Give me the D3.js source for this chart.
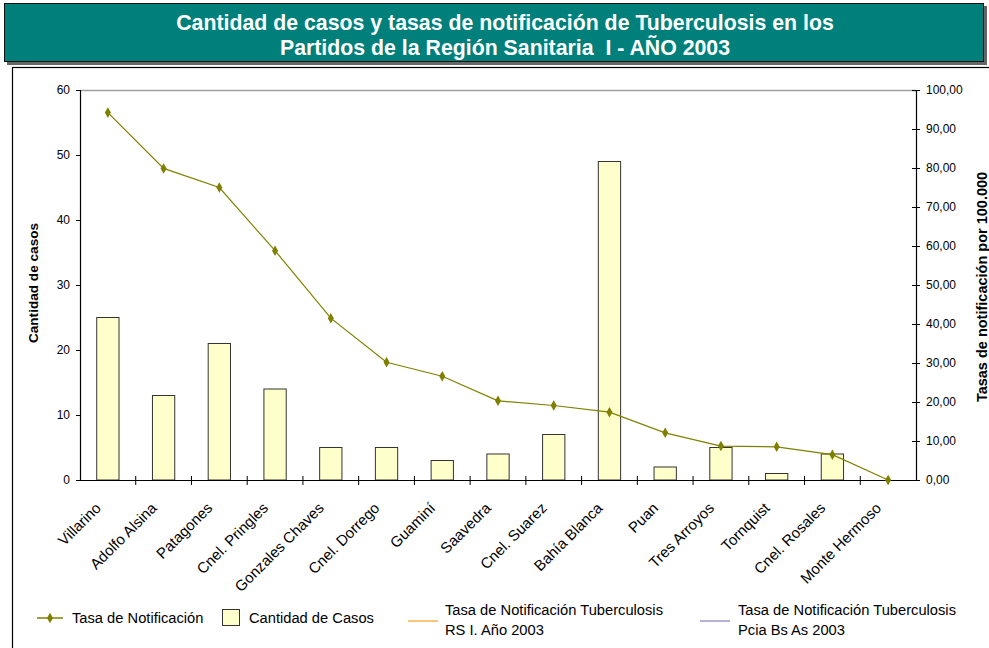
<!DOCTYPE html>
<html>
<head>
<meta charset="utf-8">
<script src="https://cdn.jsdelivr.net/npm/d3@7"></script>
<style>
  body { margin: 0; background: #fff; }
  text { font-family: "Liberation Sans", Arial, sans-serif; }
</style>
</head>
<body>
<svg id="chart" width="989" height="648"></svg>
<script>
// data
var partidos = ['Villarino', 'Adolfo Alsina', 'Patagones', 'Cnel. Pringles', 'Gonzales Chaves',
  'Cnel. Dorrego', 'Guaminí', 'Saavedra', 'Cnel. Suarez', 'Bahía Blanca', 'Puan',
  'Tres Arroyos', 'Tornquist', 'Cnel. Rosales', 'Monte Hermoso'];
var casos = [25, 13, 21, 14, 5, 5, 3, 4, 7, 49, 2, 5, 1, 4, 0];
var tasas = [94.2, 79.9, 75.0, 58.8, 41.5, 30.2, 26.6, 20.3, 19.1, 17.4, 12.1, 8.7, 8.5, 6.5, 0];
var casosTicks = [0, 10, 20, 30, 40, 50, 60];
var tasasTicks = [0, 10, 20, 30, 40, 50, 60, 70, 80, 90, 100];

// layout
var plot = {left: 80, right: 916, top: 90, bottom: 480};
var olive = '#808000';

var svg = d3.select('#chart');

// title bar
svg.append('rect')
  .attr('x', 7).attr('y', 6).attr('width', 980).attr('height', 59)
  .style('fill', '#666');
svg.append('rect')
  .attr('x', 4.5).attr('y', 3.5).attr('width', 979).attr('height', 58)
  .style('fill', '#007F7B').style('stroke', '#111').style('stroke-width', 1);
svg.append('text')
  .attr('x', 505).attr('y', 30)
  .attr('text-anchor', 'middle')
  .style('font-size', '21.3px').style('font-weight', 'bold').style('fill', '#fff')
  .text('Cantidad de casos y tasas de notificación de Tuberculosis en los');
svg.append('text')
  .attr('x', 505).attr('y', 55)
  .attr('text-anchor', 'middle')
  .style('font-size', '21.3px').style('font-weight', 'bold').style('fill', '#fff')
  .text('Partidos de la Región Sanitaria\u00a0 I - AÑO 2003');

// outer frame of chart
svg.append('rect')
  .attr('x', 12.5).attr('y', 67.5).attr('width', 1000).attr('height', 700)
  .style('fill', 'none').style('stroke', '#000').style('stroke-width', 1.2);

// scales
var x = d3.scaleBand().domain(partidos).range([plot.left, plot.right]);
var yL = d3.scaleLinear().domain([0, 60]).range([plot.bottom, plot.top]);
var yR = d3.scaleLinear().domain([0, 100]).range([plot.bottom, plot.top]);

// top border of plot area
svg.append('line')
  .attr('x1', plot.left).attr('x2', plot.right)
  .attr('y1', plot.top + 0.5).attr('y2', plot.top + 0.5)
  .style('stroke', '#a0a0a0').style('stroke-width', 1.5);

// bars
var barW = x.bandwidth() * 0.4;
svg.selectAll('rect.casos')
  .data(partidos.map(function(p, i) { return {p: p, v: casos[i]}; }).filter(function(d) { return d.v > 0; }))
  .enter()
  .append('rect')
    .classed('casos', true)
    .attr('x', function(d) { return x(d.p) + (x.bandwidth() - barW) / 2; })
    .attr('y', function(d) { return yL(d.v); })
    .attr('width', barW)
    .attr('height', function(d) { return plot.bottom - yL(d.v); })
    .style('fill', '#FFFFCC')
    .style('stroke', '#333')
    .style('stroke-width', 1);

// left axis
var axL = svg.append('g')
  .attr('transform', 'translate(' + plot.left + ',0)')
  .call(d3.axisLeft(yL).tickValues(casosTicks).tickSize(4).tickPadding(6));
// right axis
var axR = svg.append('g')
  .attr('transform', 'translate(' + plot.right + ',0)')
  .call(d3.axisRight(yR).tickValues(tasasTicks).tickSize(4).tickPadding(6)
    .tickFormat(function(d) { return d3.format('.2f')(d).replace('.', ','); }));
axR.selectAll('.tick line').attr('x1', -4);
// bottom axis
var axB = svg.append('g')
  .attr('transform', 'translate(0,' + plot.bottom + ')')
  .call(d3.axisBottom(x).tickSize(0).tickFormat(''));
axB.selectAll('.tick').remove();
var bounds = partidos.map(function(p) { return x(p); }).slice(1);
axB.selectAll('line.cat')
  .data(bounds)
  .enter()
  .append('line')
    .classed('cat', true)
    .attr('x1', function(d) { return d; }).attr('x2', function(d) { return d; })
    .attr('y1', -4).attr('y2', 5)
    .style('stroke', '#000');

[axL, axR, axB].forEach(function(a) {
  a.select('.domain').style('stroke', '#000').style('stroke-width', 1.2);
  a.selectAll('.tick line').style('stroke', '#000');
  a.selectAll('.tick text').style('font-size', '12px').style('fill', '#000')
    .style('font-family', '"Liberation Sans", Arial, sans-serif');
});

// category labels
svg.selectAll('text.cat')
  .data(partidos)
  .enter()
  .append('text')
    .classed('cat', true)
    .attr('transform', function(d) {
      return 'translate(' + (x(d) + x.bandwidth() / 2 - 6) + ',' + (plot.bottom + 29) + ') rotate(-45)';
    })
    .attr('text-anchor', 'end')
    .style('font-size', '15px')
    .text(function(d) { return d; });

// rate line
var line = d3.line()
  .x(function(d, i) { return x(partidos[i]) + x.bandwidth() / 2; })
  .y(function(d) { return yR(d); });
svg.append('path')
  .datum(tasas)
  .attr('d', line)
  .style('fill', 'none')
  .style('stroke', olive)
  .style('stroke-width', 1.2);
svg.selectAll('path.marker')
  .data(tasas)
  .enter()
  .append('path')
    .classed('marker', true)
    .attr('transform', function(d, i) {
      return 'translate(' + (x(partidos[i]) + x.bandwidth() / 2) + ',' + yR(d) + ')';
    })
    .attr('d', d3.symbol().type(d3.symbolDiamond).size(32))
    .style('fill', olive);

// axis titles
svg.append('text')
  .attr('transform', 'translate(38,283) rotate(-90)')
  .attr('text-anchor', 'middle')
  .style('font-size', '13.6px').style('font-weight', 'bold')
  .text('Cantidad de casos');
svg.append('text')
  .attr('transform', 'translate(987,287) rotate(-90)')
  .attr('text-anchor', 'middle')
  .style('font-size', '14.5px').style('font-weight', 'bold')
  .text('Tasas de notificación por 100.000');

// legend
var legend = svg.append('g');
var ly = 618;
legend.append('line')
  .attr('x1', 37).attr('x2', 63).attr('y1', ly).attr('y2', ly)
  .style('stroke', olive).style('stroke-width', 1.5);
legend.append('path')
  .attr('transform', 'translate(50,' + ly + ')')
  .attr('d', d3.symbol().type(d3.symbolDiamond).size(32))
  .style('fill', olive);
legend.append('text').attr('x', 72).attr('y', ly + 5)
  .style('font-size', '14.7px').text('Tasa de Notificación');

legend.append('rect')
  .attr('x', 222.5).attr('y', ly - 8.5).attr('width', 17).attr('height', 16)
  .style('fill', '#FFFFCC').style('stroke', '#333');
legend.append('text').attr('x', 249).attr('y', ly + 5)
  .style('font-size', '14.7px').text('Cantidad de Casos');

legend.append('line')
  .attr('x1', 408).attr('x2', 438).attr('y1', ly + 3).attr('y2', ly + 3)
  .style('stroke', '#F7B44A').style('stroke-width', 1.5);
legend.append('text').attr('x', 445).attr('y', ly - 3)
  .style('font-size', '14.7px').text('Tasa de Notificación Tuberculosis');
legend.append('text').attr('x', 445).attr('y', ly + 17)
  .style('font-size', '14.7px').text('RS I. Año 2003');

legend.append('line')
  .attr('x1', 700).attr('x2', 730).attr('y1', ly + 3).attr('y2', ly + 3)
  .style('stroke', '#9A9ACC').style('stroke-width', 1.5);
legend.append('text').attr('x', 738).attr('y', ly - 3)
  .style('font-size', '14.7px').text('Tasa de Notificación Tuberculosis');
legend.append('text').attr('x', 738).attr('y', ly + 17)
  .style('font-size', '14.7px').text('Pcia Bs As 2003');
</script>
</body>
</html>
